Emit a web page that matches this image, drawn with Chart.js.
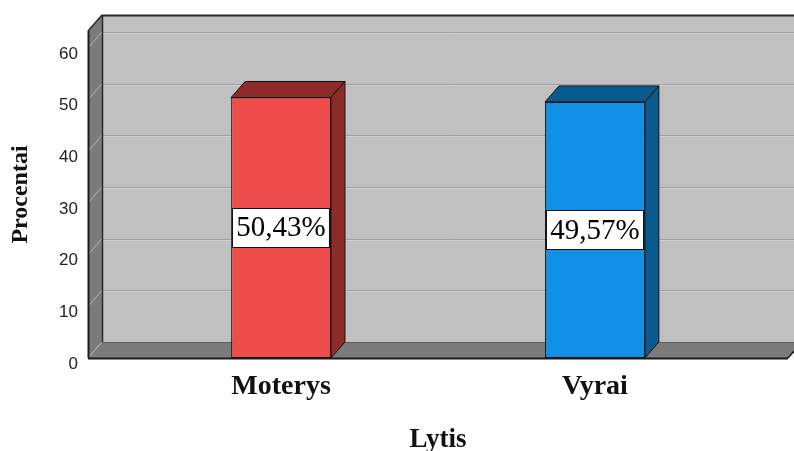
<!DOCTYPE html>
<html>
<head>
<meta charset="utf-8">
<style>
  html, body { margin: 0; padding: 0; background: #ffffff; }
  #wrap { width: 794px; height: 451px; }
</style>
<script src="https://cdn.jsdelivr.net/npm/chart.js@4.4.0/dist/chart.umd.min.js"></script>
</head>
<body>
<div id="wrap"><canvas id="c" width="794" height="451"></canvas></div>
<script>
// Data
const categories = ['Moterys', 'Vyrai'];
const percentages = [50.43, 49.57];
const yTicks = [0, 10, 20, 30, 40, 50, 60];
const yAxisMax = 63.3;
const xTitle = 'Lytis';
const yTitle = 'Procentai';

// Styling
const faceColors = ['#ee4c4c', '#1290e6'];
const shadeColors = ['#8d2b2b', '#0b5a8e'];
const DEPTH_X = 14;
const DEPTH_Y = -16;

function formatPct(v) {
  return v.toFixed(2).replace('.', ',') + '%';
}

function poly(ctx, pts, fill, stroke, lw) {
  ctx.beginPath();
  ctx.moveTo(pts[0][0], pts[0][1]);
  for (let i = 1; i < pts.length; i++) ctx.lineTo(pts[i][0], pts[i][1]);
  ctx.closePath();
  if (fill) { ctx.fillStyle = fill; ctx.fill(); }
  if (stroke) { ctx.strokeStyle = stroke; ctx.lineWidth = lw || 1; ctx.stroke(); }
}

function seg(ctx, x1, y1, x2, y2, color, lw) {
  ctx.beginPath();
  ctx.moveTo(x1, y1);
  ctx.lineTo(x2, y2);
  ctx.strokeStyle = color;
  ctx.lineWidth = lw || 1;
  ctx.stroke();
}

// Walls, floor and grid of the 3D box, behind the bars
const box3d = {
  id: 'box3d',
  beforeDatasetsDraw(chart) {
    const { ctx, chartArea: a, scales: { y } } = chart;
    const L = a.left, R = a.right, T = a.top, B = a.bottom;
    const dx = DEPTH_X, dy = DEPTH_Y;
    ctx.save();
    // back wall
    ctx.fillStyle = '#c0c0c0';
    ctx.fillRect(L + dx, T + dy, R - L, B - T);
    // back wall grid
    yTicks.forEach(v => {
      if (v === 0) return;
      const py = Math.round(y.getPixelForValue(v) + dy) + 0.5;
      seg(ctx, L + dx, py, R + dx, py, '#9e9e9e', 1);
      seg(ctx, L + dx, py + 1, R + dx, py + 1, '#d0d0d0', 1);
    });
    // left wall
    poly(ctx, [[L, B], [L, T], [L + dx, T + dy], [L + dx, B + dy]], '#7b7b7b');
    yTicks.forEach(v => {
      const py = y.getPixelForValue(v);
      seg(ctx, L, py, L + dx, py + dy, '#b4b4b4', 1);
    });
    // floor
    poly(ctx, [[L, B], [R, B], [R + dx, B + dy], [L + dx, B + dy]], '#7b7b7b');
    seg(ctx, L + dx, B + dy + 0.5, R + dx, B + dy + 0.5, '#5c5c5c', 1);
    seg(ctx, L, B, L + dx, B + dy, '#b4b4b4', 1);
    // edges
    seg(ctx, L + dx + 0.5, T + dy, L + dx + 0.5, B + dy, '#2a2a2a', 1.5);
    seg(ctx, L + dx, T + dy + 0.5, R + dx, T + dy + 0.5, '#2a2a2a', 2);
    seg(ctx, L, T, L + dx, T + dy, '#2a2a2a', 1.5);
    seg(ctx, L + 0.5, T, L + 0.5, B, '#1a1a1a', 2);
    seg(ctx, L, B + 0.5, R, B + 0.5, '#1a1a1a', 2);
    seg(ctx, R, B, R + dx, B + dy, '#1a1a1a', 1.5);
    ctx.restore();
  },
  afterDatasetsDraw(chart) {
    const { ctx, scales: { y } } = chart;
    const dx = DEPTH_X, dy = DEPTH_Y;
    const meta = chart.getDatasetMeta(0);
    ctx.save();
    meta.data.forEach((bar, i) => {
      const { x, y: top, base, width } = bar.getProps(['x', 'y', 'base', 'width'], true);
      const left = x - width / 2, right = x + width / 2;
      // top face
      poly(ctx, [[left, top], [right, top], [right + dx, top + dy], [left + dx, top + dy]],
        shadeColors[i], '#111111', 1);
      // side face
      poly(ctx, [[right, top], [right + dx, top + dy], [right + dx, base + dy], [right, base]],
        shadeColors[i], '#111111', 1);
      // value label
      const v = percentages[i];
      const cy = y.getPixelForValue(v / 2);
      const h = 39;
      ctx.fillStyle = '#ffffff';
      ctx.fillRect(left + 1, cy - h / 2, width - 2, h);
      ctx.strokeStyle = '#111111';
      ctx.lineWidth = 1;
      ctx.strokeRect(Math.round(left + 1) + 0.5, Math.round(cy - h / 2) + 0.5, Math.round(width - 3), h);
      ctx.fillStyle = '#000000';
      ctx.font = '29px "Liberation Serif", "Times New Roman", serif';
      ctx.textAlign = 'center';
      ctx.textBaseline = 'middle';
      ctx.fillText(formatPct(v), x, cy + 1);
    });
    ctx.restore();
  }
};

new Chart(document.getElementById('c'), {
  type: 'bar',
  data: {
    datasets: [{
      data: percentages.map((v, i) => ({ x: i, y: v })),
      backgroundColor: faceColors,
      borderColor: '#111111',
      borderWidth: 1,
      borderSkipped: false,
      categoryPercentage: 1,
      barPercentage: 0.318
    }]
  },
  options: {
    responsive: false,
    animation: false,
    devicePixelRatio: 1,
    layout: { padding: { top: 31, right: 6, bottom: 0, left: 0 } },
    plugins: { legend: { display: false }, tooltip: { enabled: false } },
    scales: {
      x: {
        type: 'linear',
        offset: false,
        min: -0.615,
        max: 1.615,
        grid: { display: false, drawTicks: false, offset: false },
        border: { display: false },
        afterBuildTicks(scale) {
          scale.ticks = categories.map((c, i) => ({ value: i }));
        },
        afterFit(scale) { scale.height = 93; },
        ticks: {
          autoSkip: false,
          maxRotation: 0,
          padding: 12,
          color: '#111111',
          font: { family: '"Liberation Serif", "Times New Roman", serif', size: 28, weight: 'bold' },
          callback: v => categories[v]
        },
        title: {
          display: true,
          text: xTitle,
          color: '#111111',
          padding: { top: 0, bottom: -3 },
          font: { family: '"Liberation Serif", "Times New Roman", serif', size: 27, weight: 'bold', lineHeight: 1 }
        }
      },
      y: {
        min: 0,
        max: yAxisMax,
        grid: { display: false, drawTicks: false },
        border: { display: false },
        afterBuildTicks(scale) {
          scale.ticks = yTicks.map(v => ({ value: v }));
        },
        afterFit(scale) { scale.width = 88; },
        ticks: {
          padding: 10,
          labelOffset: 6,
          color: '#222222',
          font: { family: '"Liberation Sans", Arial, sans-serif', size: 17 }
        },
        title: {
          display: true,
          text: yTitle,
          color: '#111111',
          padding: { top: 9, bottom: 0 },
          font: { family: '"Liberation Serif", "Times New Roman", serif', size: 24, weight: 'bold', lineHeight: 1 }
        }
      }
    }
  },
  plugins: [box3d]
});
</script>
</body>
</html>
